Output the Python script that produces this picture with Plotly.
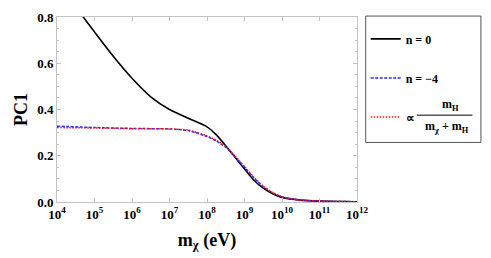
import plotly.graph_objects as go

# ---- data ----
mass_n0 = [1e4, 3.16e4, 5e4, 1e5, 3.16e5, 1e6, 3.16e6, 1e7, 3.16e7, 1e8, 1.78e8, 3.16e8, 5.62e8,
           1e9, 1.78e9, 3.16e9, 5.62e9, 1e10, 3.16e10, 1e11, 1e12]
pc1_n0 = [0.95, 0.84, 0.80, 0.735, 0.63, 0.535, 0.455, 0.40, 0.362, 0.325, 0.29, 0.243, 0.193,
          0.143, 0.094, 0.06, 0.036, 0.02, 0.008, 0.004, 0.001]

mass_nm4 = [1e4, 1e5, 1e6, 1e7, 3.16e7, 1e8, 1.78e8, 3.16e8, 5.62e8, 1e9, 1.78e9, 3.16e9, 5.62e9,
            1e10, 3.16e10, 1e11, 1e12]
pc1_nm4 = [0.328, 0.322, 0.318, 0.316, 0.309, 0.283, 0.264, 0.237, 0.195, 0.15, 0.104, 0.066, 0.04,
           0.022, 0.008, 0.004, 0.001]

mass_prop = [1e4, 1e5, 1e6, 1e7, 3.16e7, 1e8, 1.78e8, 3.16e8, 5.62e8, 1e9, 1.78e9, 3.16e9, 5.62e9,
             1e10, 3.16e10, 1e11, 1e12]
pc1_prop = [0.322, 0.32, 0.317, 0.316, 0.311, 0.286, 0.267, 0.24, 0.199, 0.154, 0.107, 0.068, 0.041,
            0.023, 0.008, 0.004, 0.001]

x_tick_exps = [4, 5, 6, 7, 8, 9, 10, 11, 12]
y_tick_vals = [0.0, 0.2, 0.4, 0.6, 0.8]

FONT = "Liberation Serif"
FRAME = "#c4c4c4"

fig = go.Figure()
fig.add_trace(go.Scatter(x=mass_n0, y=pc1_n0, mode="lines", name="n = 0",
                         legendgroup="a", line=dict(color="black", width=1.6, shape="spline", smoothing=0.5)))
fig.add_trace(go.Scatter(x=mass_nm4, y=pc1_nm4, mode="lines", name="n = −4",
                         legendgroup="b", line=dict(color="rgb(40,40,255)", width=1.5, dash="3px,1.5px",
                                                    shape="spline", smoothing=0.5)))
fig.add_trace(go.Scatter(x=mass_prop, y=pc1_prop, mode="lines", name="∝",
                         legendgroup="c", line=dict(color="rgb(255,20,20)", width=1.5, dash="1.5px,1.5px",
                                                    shape="spline", smoothing=0.5)))

# page body adds an 8px offset; compensate so the plot lands where the reference has it
fig.update_layout(
    width=483, height=250,
    margin=dict(l=49, r=134, t=9, b=56, autoexpand=False),
    paper_bgcolor="white", plot_bgcolor="white",
    font=dict(family=FONT, color="black", size=11),
    showlegend=True,
    legend=dict(x=1.029, y=0.96, xanchor="left", yanchor="top",
                bgcolor="rgba(0,0,0,0)", borderwidth=0,
                font=dict(family=FONT, size=12, weight="bold"),
                tracegroupgap=20),
)

fig.update_xaxes(
    type="log", range=[4, 12], automargin=False,
    tickvals=[10 ** e for e in x_tick_exps],
    ticktext=[f"10<sup>{e}</sup>" for e in x_tick_exps],
    tickfont=dict(family=FONT, size=13, weight="bold"),
    showgrid=False, zeroline=False,
    showline=True, linecolor=FRAME, linewidth=1, mirror="ticks",
    ticks="inside", ticklen=4, tickcolor=FRAME,
    title=dict(text="m<sub>χ</sub> (eV)", font=dict(family=FONT, size=18, weight="bold"), standoff=12),
)
fig.update_yaxes(
    range=[0, 0.8], automargin=False,
    tickvals=y_tick_vals,
    ticktext=[f"{v:.1f}" for v in y_tick_vals],
    tickfont=dict(family=FONT, size=13, weight="bold"),
    showgrid=False, zeroline=False,
    showline=True, linecolor=FRAME, linewidth=1, mirror="ticks",
    ticks="inside", ticklen=4, tickcolor=FRAME,
    minor=dict(dtick=0.05, ticks="inside", ticklen=2, tickcolor=FRAME),
    title=dict(text="PC1", font=dict(family=FONT, size=18, weight="bold"), standoff=4),
)

# legend frame
fig.add_shape(type="rect", xref="paper", yref="paper",
              x0=1.029, x1=1.413, y0=0.322, y1=1.005,
              line=dict(color="#555555", width=1), fillcolor="rgba(0,0,0,0)")

# fraction for the third legend entry
fig.add_annotation(xref="paper", yref="paper", x=1.31, y=0.472, text="<b>m<sub>H</sub></b>",
                   showarrow=False, font=dict(family=FONT, size=12), xanchor="center", yanchor="bottom")
fig.add_shape(type="line", xref="paper", yref="paper", x0=1.20, x1=1.385, y0=0.4695, y1=0.4695,
              line=dict(color="black", width=1))
fig.add_annotation(xref="paper", yref="paper", x=1.30, y=0.458, text="<b>m<sub>χ</sub> + m<sub>H</sub></b>",
                   showarrow=False, font=dict(family=FONT, size=12), xanchor="center", yanchor="top")

fig.write_html("out.html")
